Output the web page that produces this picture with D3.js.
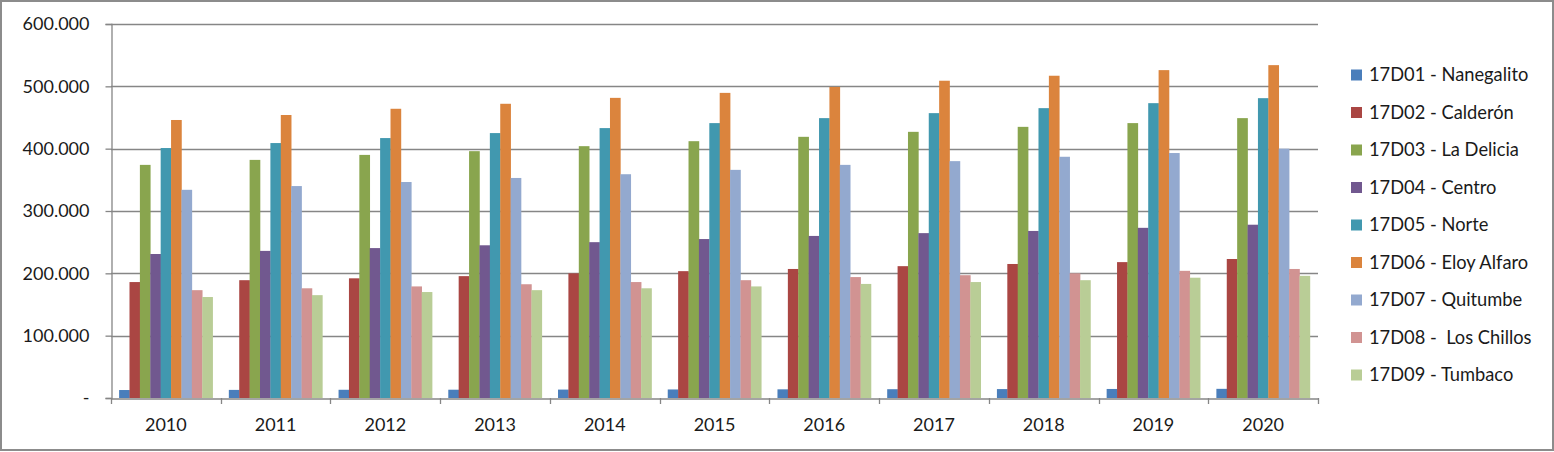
<!DOCTYPE html>
<html><head><meta charset="utf-8">
<script src="https://cdn.jsdelivr.net/npm/d3@7"></script>
<style>
html,body{margin:0;padding:0;background:#fff;}
svg text{font-family:Lato,"Open Sans",sans-serif;fill:#1a1a1a;}
</style></head>
<body>
<svg id="c" width="1554" height="452"></svg>
<script>
const years = ["2010","2011","2012","2013","2014","2015","2016","2017","2018","2019","2020"];
const seriesNames = ["17D01 - Nanegalito","17D02 - Calderón","17D03 - La Delicia","17D04 - Centro","17D05 - Norte","17D06 - Eloy Alfaro","17D07 - Quitumbe","17D08 -  Los Chillos","17D09 - Tumbaco"];
const colors = ["#4A7EBB","#AA4643","#89A54E","#71588F","#4198AF","#DB843D","#93A9CF","#D19392","#B9CD96"];
const nanegalito = [12800,13000,13200,13300,13500,13700,13900,14100,14300,14500,14700];
const calderon   = [186000,189000,192000,195500,200000,203500,207000,211500,215000,218000,223000];
const laDelicia  = [374000,382000,390000,396000,404000,412000,419000,427000,435000,441000,449000];
const centro     = [231000,236000,240500,245000,250000,255000,260000,264500,268000,273000,278000];
const norte      = [401000,409000,417000,425000,433000,441000,449000,457000,465000,473000,481000];
const eloyAlfaro = [446000,454000,464000,472000,481500,489500,499000,509000,517000,526000,534000];
const quitumbe   = [334000,340000,346500,353000,359000,366000,374000,380000,387000,393000,400000];
const losChillos = [173000,176000,179000,182500,186000,189000,194000,197000,200000,204000,207000];
const tumbaco    = [162000,165000,170000,173000,176000,179000,183000,186000,189000,193000,196000];
const seriesValues = [nanegalito,calderon,laDelicia,centro,norte,eloyAlfaro,quitumbe,losChillos,tumbaco];
const yTicks = [0,100000,200000,300000,400000,500000,600000];

const svg = d3.select("#c");
const W = 1554, H = 452;
const L = 111, R = 1318, T = 24, B = 398;
const grid = "#868686";

svg.append("rect").attr("x",1).attr("y",1).attr("width",W-2).attr("height",H-3)
  .attr("fill","#fff").attr("stroke","#8c8c8c").attr("stroke-width",2);

const x = d3.scaleBand().domain(years).range([L,R]).paddingInner(0).paddingOuter(0);
const x1 = d3.scaleBand().domain(d3.range(seriesNames.length)).range([0,x.bandwidth()]).paddingInner(0).paddingOuter(0.78);
const y = d3.scaleLinear().domain([0,600000]).range([B,T]);

const fmt = v => v===0 ? "-" : d3.format(",")(v).replace(/,/g,".");

// gridlines
svg.append("g").selectAll("line").data(yTicks.filter(v=>v>0)).join("line")
  .attr("x1",L).attr("x2",R).attr("y1",d=>Math.round(y(d))+0.5).attr("y2",d=>Math.round(y(d))+0.5)
  .attr("stroke",grid).attr("stroke-width",1.3);

// bars
const g = svg.append("g");
years.forEach((yr,i)=>{
  seriesValues.forEach((vals,s)=>{
    g.append("rect").attr("x",x(yr)+x1(s)).attr("width",x1.bandwidth()+0.3)
      .attr("y",y(vals[i])).attr("height",y(0)-y(vals[i])).attr("fill",colors[s]);
  });
});

// y axis
const ya = svg.append("g").attr("transform",`translate(${L+0.5},0)`)
  .call(d3.axisLeft(y).tickValues(yTicks).tickFormat(fmt).tickSize(6).tickPadding(16));
ya.select(".domain").attr("stroke",grid).attr("stroke-width",1.3);
ya.selectAll(".tick line").attr("stroke",grid).attr("stroke-width",1.3);
ya.selectAll(".tick text").attr("font-size","18px").attr("fill","#1a1a1a").attr("font-family","Lato, sans-serif");

// x axis
const xa = svg.append("g").attr("transform",`translate(0,${Math.round(B)+0.5})`)
  .call(d3.axisBottom(x).tickSize(0).tickPadding(20));
xa.select(".domain").attr("stroke",grid).attr("stroke-width",1.3);
xa.selectAll(".tick text").attr("font-size","18px").attr("fill","#1a1a1a").attr("font-family","Lato, sans-serif");
const bounds = years.map(yr=>x(yr)).concat([R]);
svg.append("g").selectAll("line").data(bounds).join("line")
  .attr("x1",d=>Math.round(d)+0.5).attr("x2",d=>Math.round(d)+0.5).attr("y1",B).attr("y2",B+6)
  .attr("stroke",grid).attr("stroke-width",1.3);

// legend
const lg = svg.append("g");
seriesNames.forEach((n,i)=>{
  const cy = 75 + i*37.5;
  lg.append("rect").attr("x",1351).attr("y",cy-5.5).attr("width",11).attr("height",11).attr("fill",colors[i]);
  lg.append("text").attr("x",1369).attr("y",cy).attr("dy","0.35em").attr("font-size","18.3px")
    .attr("xml:space","preserve").style("white-space","pre").text(n);
});
</script>
</body></html>
